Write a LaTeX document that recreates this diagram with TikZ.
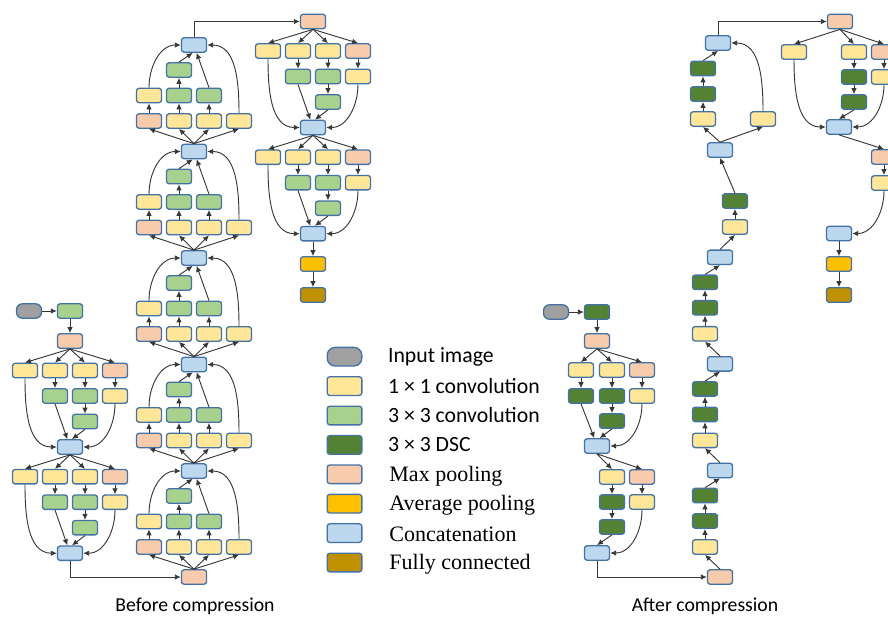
\documentclass[tikz,border=0pt]{standalone}
\usepackage{fontspec}
\usepackage{xcolor}
\usepackage{tikz}
\usetikzlibrary{arrows.meta, positioning}
\newfontfamily\labelfont{Carlito}
\newfontfamily\serifont{Liberation Serif}

\definecolor{edgeblue}{RGB}{68,114,166}
\definecolor{convone}{RGB}{255,230,153}
\definecolor{convthree}{RGB}{169,209,142}
\definecolor{dscgreen}{RGB}{84,130,53}
\definecolor{maxpink}{RGB}{248,203,173}
\definecolor{avgorange}{RGB}{255,192,0}
\definecolor{catblue}{RGB}{189,215,238}
\definecolor{fcbrown}{RGB}{191,144,0}
\definecolor{inputgray}{RGB}{160,160,160}
\definecolor{linegray}{RGB}{55,55,55}

\tikzset{
  block/.style={draw=edgeblue, line width=1pt, rounded corners=2pt, minimum width=18.8pt, minimum height=10.8pt, inner sep=0pt},
  onebyone/.style={block, fill=convone},
  threebythree/.style={block, fill=convthree},
  dsc/.style={block, fill=dscgreen},
  maxp/.style={block, fill=maxpink},
  avgp/.style={block, fill=avgorange},
  concat/.style={block, fill=catblue},
  fcl/.style={block, fill=fcbrown},
  inimg/.style={block, fill=inputgray, rounded corners=4.5pt},
  keybox/.style={minimum width=26pt, minimum height=14pt},
  keytext/.style={inner sep=0pt, anchor=west},
  flow/.style={draw=linegray, line width=0.7pt, -{Latex[length=4.5pt,width=4.2pt]}},
}

\begin{document}
\begin{tikzpicture}[x=0.75pt, y=-0.75pt]
    \useasboundingbox (0,0) rectangle (888,617);
    \clip (0,0) rectangle (888,617);

    % --- BEFORE COMPRESSION ---
    \node (img1) [inimg] at (29,311) {};
    \node (stem1) [threebythree] at (70,311) {};
    \node (L0) [maxp] at (70,341) {};
    \node (R0) [maxp] at (313,21.5) {};
    \draw[flow] (img1) -- (stem1);
    \draw[flow] (stem1) -- (L0);

    % downward modules (left and right columns)
    \foreach \col/\cx/\ys in {L/70/341, R/313/21.5} {
      \foreach \i [evaluate=\i as \y using \ys+106.2*(\i-1), evaluate=\i as \j using int(\i-1)] in {1,2} {
        \node (\col\i-a1) [onebyone] at (\cx-45,\y+29.5) {};
        \node (\col\i-a2) [onebyone] at (\cx-15,\y+29.5) {};
        \node (\col\i-a3) [onebyone] at (\cx+15,\y+29.5) {};
        \node (\col\i-a4) [maxp] at (\cx+45,\y+29.5) {};
        \node (\col\i-b2) [threebythree] at (\cx-15,\y+55) {};
        \node (\col\i-b3) [threebythree] at (\cx+15,\y+55) {};
        \node (\col\i-b4) [onebyone] at (\cx+45,\y+55) {};
        \node (\col\i-c3) [threebythree] at (\cx+15,\y+80.5) {};
        \node (\col\i) [concat] at (\cx,\y+106) {};
        % Arrows
        \foreach \k in {1,...,4} \draw[flow] (\col\j.south) -- (\col\i-a\k.north);
        \foreach \k in {2,3,4} \draw[flow] (\col\i-a\k) -- (\col\i-b\k);
        \draw[flow] (\col\i-b3) -- (\col\i-c3);
        \draw[flow] (\col\i-a1.south) to[out=-90,in=180] (\col\i.west);
        \draw[flow] (\col\i-b2.south) -- ([xshift=-2pt]\col\i.north);
        \draw[flow] (\col\i-c3.south) -- ([xshift=1.5pt]\col\i.north);
        \draw[flow] (\col\i-b4.south) to[out=-90,in=0] (\col\i.east);
      }
    }

    % upward modules (middle column)
    \node (M0) [maxp] at (194,577) {};
    \foreach \i [evaluate=\i as \y using 577-106.5*(\i-1), evaluate=\i as \j using int(\i-1)] in {1,...,5} {
      \node (M\i-a1) [maxp] at (149,\y-30) {};
      \node (M\i-a2) [onebyone] at (179,\y-30) {};
      \node (M\i-a3) [onebyone] at (209,\y-30) {};
      \node (M\i-a4) [onebyone] at (239,\y-30) {};
      \node (M\i-b1) [onebyone] at (149,\y-55.5) {};
      \node (M\i-b2) [threebythree] at (179,\y-55.5) {};
      \node (M\i-b3) [threebythree] at (209,\y-55.5) {};
      \node (M\i-c2) [threebythree] at (179,\y-81) {};
      \node (M\i) [concat] at (194,\y-106) {};
      % Arrows
      \foreach \k in {1,...,4} \draw[flow] (M\j.north) -- (M\i-a\k.south);
      \foreach \k in {1,2,3} \draw[flow] (M\i-a\k) -- (M\i-b\k);
      \draw[flow] (M\i-b2) -- (M\i-c2);
      \draw[flow] (M\i-b1.north) to[out=90,in=180] (M\i.west);
      \draw[flow] (M\i-c2.north) -- ([xshift=-1pt]M\i.south);
      \draw[flow] (M\i-b3.north) -- ([xshift=2pt]M\i.south);
      \draw[flow] (M\i-a4.north) to[out=90,in=0] (M\i.east);
    }

    \node (avg1) [avgp] at (313,264) {};
    \node (fc1) [fcl] at (313,295) {};
    \draw[flow] (R2) -- (avg1);
    \draw[flow] (avg1) -- (fc1);

    % links between columns
    \draw[flow] (L2.south) |- (M0.west);
    \draw[flow] (M5.north) |- (R0.west);

    % --- AFTER COMPRESSION ---
    \node (img2) [inimg] at (556,312) {};
    \node (stem2) [dsc] at (597,312) {};
    \node (P0) [maxp] at (597,341) {};
    \draw[flow] (img2) -- (stem2);
    \draw[flow] (stem2) -- (P0);

    \node (P1-a1) [onebyone] at (581,370) {};
    \node (P1-a2) [onebyone] at (612,370) {};
    \node (P1-a3) [maxp] at (642,370) {};
    \node (P1-b1) [dsc] at (581,396) {};
    \node (P1-b2) [dsc] at (612,396) {};
    \node (P1-b3) [onebyone] at (642,396) {};
    \node (P1-c2) [dsc] at (612,421) {};
    \node (P1) [concat] at (597,446) {};
    \foreach \k in {1,2,3} \draw[flow] (P0.south) -- (P1-a\k.north);
    \foreach \k in {1,2,3} \draw[flow] (P1-a\k) -- (P1-b\k);
    \draw[flow] (P1-b2) -- (P1-c2);
    \draw[flow] (P1-b1.south) -- ([xshift=-2pt]P1.north);
    \draw[flow] (P1-c2.south) -- ([xshift=2pt]P1.north);
    \draw[flow] (P1-b3.south) to[out=-90,in=0] (P1.east);

    \node (P2-a2) [onebyone] at (612,477) {};
    \node (P2-a3) [maxp] at (642,477) {};
    \node (P2-b2) [dsc] at (612,502) {};
    \node (P2-b3) [onebyone] at (642,502) {};
    \node (P2-c2) [dsc] at (612,527) {};
    \node (P2) [concat] at (597,553) {};
    \foreach \k in {2,3} \draw[flow] (P1.south) -- (P2-a\k.north);
    \foreach \k in {2,3} \draw[flow] (P2-a\k) -- (P2-b\k);
    \draw[flow] (P2-b2) -- (P2-c2);
    \draw[flow] (P2-c2.south) -- (P2.north);
    \draw[flow] (P2-b3.south) to[out=-90,in=0] (P2.east);

    % upward chain
    \node (Q0) [maxp] at (720,577) {};
    \draw[flow] (P2.south) |- (Q0.west);
    \foreach \i [evaluate=\i as \y using 577-106.6*(\i-1), evaluate=\i as \j using int(\i-1)] in {1,2,3} {
      \node (Q\i-a) [onebyone] at (705,\y-30) {};
      \node (Q\i-b) [dsc] at (705,\y-56) {};
      \node (Q\i-c) [dsc] at (705,\y-81.5) {};
      \node (Q\i) [concat] at (720,\y-106.5) {};
      \draw[flow] (Q\j.north) -- (Q\i-a.south);
      \draw[flow] (Q\i-a) -- (Q\i-b);
      \draw[flow] (Q\i-b) -- (Q\i-c);
      \draw[flow] (Q\i-c.north) -- (Q\i.south);
    }
    \node (Q4-a) [onebyone] at (735,227) {};
    \node (Q4-b) [dsc] at (735,201) {};
    \node (Q4) [concat] at (720,150) {};
    \draw[flow] (Q3.north) -- (Q4-a.south);
    \draw[flow] (Q4-a) -- (Q4-b);
    \draw[flow] (Q4-b.north) -- (Q4.south);

    \node (Q5-a1) [onebyone] at (703,119) {};
    \node (Q5-a2) [onebyone] at (763,119) {};
    \node (Q5-b1) [dsc] at (703,94) {};
    \node (Q5-c1) [dsc] at (703,68.5) {};
    \node (Q5) [concat] at (718,43) {};
    \draw[flow] (Q4.north) -- (Q5-a1.south);
    \draw[flow] (Q4.north) -- (Q5-a2.south);
    \draw[flow] (Q5-a1) -- (Q5-b1);
    \draw[flow] (Q5-b1) -- (Q5-c1);
    \draw[flow] (Q5-c1.north) -- (Q5.south);
    \draw[flow] (Q5-a2.north) to[out=90,in=0] (Q5.east);

    % right column
    \node (S0) [maxp] at (840,21.5) {};
    \draw[flow] (Q5.north) |- (S0.west);
    \node (S1-a1) [onebyone] at (794,52) {};
    \node (S1-a2) [onebyone] at (854,52) {};
    \node (S1-a3) [maxp] at (884,52) {};
    \node (S1-b2) [dsc] at (854,77) {};
    \node (S1-b3) [onebyone] at (884,77) {};
    \node (S1-c2) [dsc] at (854,102) {};
    \node (S1) [concat] at (839,127) {};
    \foreach \k in {1,2,3} \draw[flow] (S0.south) -- (S1-a\k.north);
    \draw[flow] (S1-a2) -- (S1-b2);
    \draw[flow] (S1-b2) -- (S1-c2);
    \draw[flow] (S1-a3) -- (S1-b3);
    \draw[flow] (S1-a1.south) to[out=-90,in=180] (S1.west);
    \draw[flow] (S1-c2.south) -- (S1.north);
    \draw[flow] (S1-b3.south) to[out=-90,in=0] (S1.east);

    \node (S2-a3) [maxp] at (884,157) {};
    \node (S2-b3) [onebyone] at (884,183) {};
    \node (S2) [concat] at (839,233.5) {};
    \node (avg2) [avgp] at (839,264) {};
    \node (fc2) [fcl] at (839,295) {};
    \draw[flow] (S1.south) -- (S2-a3.north);
    \draw[flow] (S2-a3) -- (S2-b3);
    \draw[flow] (S2-b3.south) to[out=-90,in=0] (S2.east);
    \draw[flow] (S2) -- (avg2);
    \draw[flow] (avg2) -- (fc2);

    % --- LEGEND ---
    \node (key1) [inimg, keybox, rounded corners=6pt] at (344.5,356.7) {};
    \node (key2) [onebyone, keybox] at (344.5,386.1) {};
    \node (key3) [threebythree, keybox] at (344.5,415.5) {};
    \node (key4) [dsc, keybox] at (344.5,444.9) {};
    \node (key5) [maxp, keybox] at (344.5,474.3) {};
    \node (key6) [avgp, keybox] at (344.5,503.7) {};
    \node (key7) [concat, keybox] at (344.5,533.1) {};
    \node (key8) [fcl, keybox] at (344.5,562.5) {};
    \node (txt1) [keytext, right=19pt of key1, font=\labelfont\fontsize{16.3}{18}\selectfont] {Input image};
    \node (txt2) [keytext, right=19pt of key2, font=\labelfont\fontsize{16.3}{18}\selectfont] {1 × 1 convolution};
    \node (txt3) [keytext, right=19pt of key3, font=\labelfont\fontsize{16.3}{18}\selectfont] {3 × 3 convolution};
    \node (txt4) [keytext, right=19pt of key4, font=\labelfont\fontsize{16.3}{18}\selectfont] {3 × 3 DSC};
    \node (txt5) [keytext, right=20pt of key5, yshift=-1.2pt, font=\serifont\fontsize{16.5}{18}\selectfont] {Max pooling};
    \node (txt6) [keytext, right=20pt of key6, yshift=-1.2pt, font=\serifont\fontsize{16.5}{18}\selectfont] {Average pooling};
    \node (txt7) [keytext, right=20pt of key7, yshift=-1.2pt, font=\serifont\fontsize{16.5}{18}\selectfont] {Concatenation};
    \node (txt8) [keytext, right=20pt of key8, yshift=-1.2pt, font=\serifont\fontsize{16.5}{18}\selectfont] {Fully connected};

    % captions
    \node (cap1) [font=\labelfont\fontsize{14.8}{16}\selectfont] at (195,606) {Before compression};
    \node (cap2) [font=\labelfont\fontsize{14.8}{16}\selectfont] at (705,606) {After compression};

\end{tikzpicture}
\end{document}
